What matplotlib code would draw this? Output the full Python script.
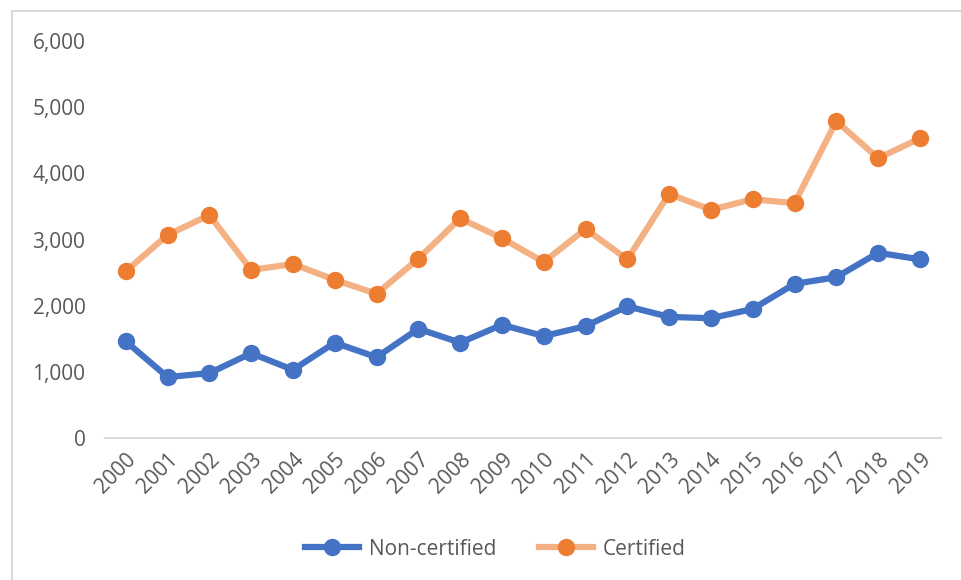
import matplotlib
matplotlib.use('Agg')
import matplotlib.pyplot as plt
from matplotlib.lines import Line2D
from matplotlib.ticker import FuncFormatter

years = [str(y) for y in range(2000, 2020)]
non_certified = [1460, 920, 980, 1280, 1030, 1440, 1220, 1650, 1440, 1710,
                 1540, 1690, 1990, 1830, 1810, 1950, 2330, 2430, 2800, 2700]
certified = [2520, 3070, 3370, 2540, 2630, 2390, 2180, 2710, 3320, 3020,
             2660, 3160, 2700, 3690, 3450, 3610, 3550, 4790, 4230, 4530]

plt.rcParams['font.family'] = ['Open Sans', 'DejaVu Sans']
text_col = '#595959'

fig = plt.figure(figsize=(9.62, 5.8), dpi=100)
ax = fig.add_axes([0.109, 0.245, 0.869, 0.684])

x = list(range(len(years)))
ax.plot(x, non_certified, color='#4472C4', lw=4.5, marker='o', ms=11.5,
        mfc='#4472C4', mec='#4472C4', solid_capstyle='round', zorder=3)
ax.plot(x, certified, color='#F4B183', lw=4.5, marker='o', ms=11.5,
        mfc='#ED7D31', mec='#ED7D31', solid_capstyle='round', zorder=3)

ax.set_xlim(-0.5, len(years) - 0.5)
ax.set_ylim(0, 6000)
ax.set_yticks(range(0, 6001, 1000))
ax.yaxis.set_major_formatter(FuncFormatter(lambda v, p: f'{int(v):,}'))
ax.set_xticks(x)
ax.set_xticklabels(years, rotation=45, ha='right', va='top',
                   rotation_mode='anchor')

for s in ['top', 'right', 'left']:
    ax.spines[s].set_visible(False)
ax.spines['bottom'].set_color('#d9d9d9')
ax.spines['bottom'].set_linewidth(1.5)
ax.tick_params(axis='both', length=0, labelsize=15, colors=text_col)
ax.tick_params(axis='y', pad=14)
ax.tick_params(axis='x', pad=8)

handles = [
    Line2D([], [], color='#4472C4', lw=4.5, marker='o', ms=11.5,
           mfc='#4472C4', mec='#4472C4'),
    Line2D([], [], color='#F4B183', lw=4.5, marker='o', ms=11.5,
           mfc='#ED7D31', mec='#ED7D31'),
]
fig.legend(handles, ['Non-certified', 'Certified'], loc='center',
           bbox_to_anchor=(0.515, 0.053), ncol=2, frameon=False,
           fontsize=15, labelcolor=text_col, handlelength=2.6,
           columnspacing=2.0, handletextpad=0.5)

# light frame on left/top edges
fig.add_artist(Line2D([0.0125, 0.0125], [0, 0.981], color='#d9d9d9', lw=1.5))
fig.add_artist(Line2D([0.0125, 1.0], [0.981, 0.981], color='#d9d9d9', lw=1.5))

fig.savefig('out.png', dpi=100)
